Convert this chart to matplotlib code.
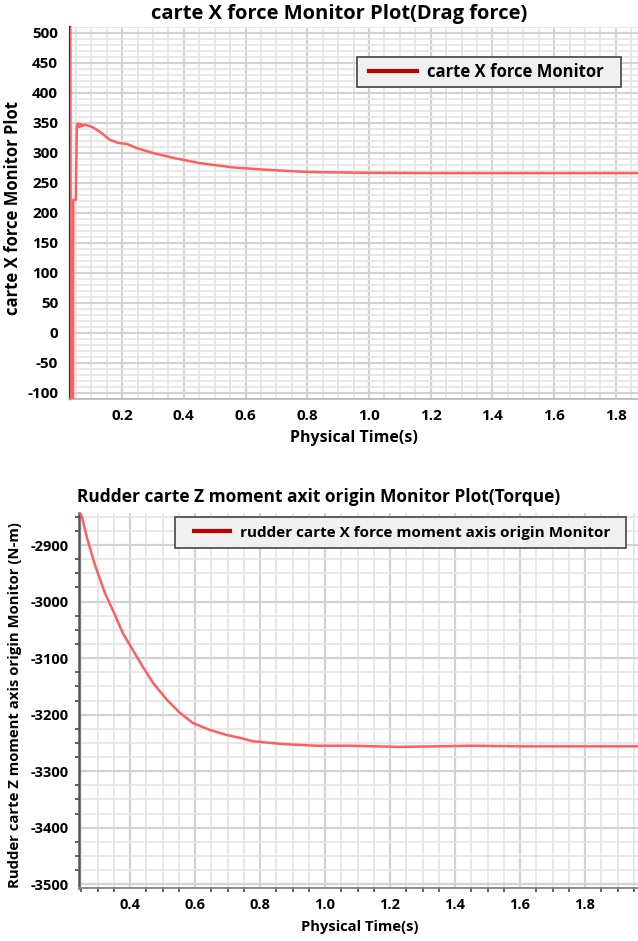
import matplotlib
matplotlib.use("Agg")
import matplotlib.pyplot as plt
from matplotlib.patches import Rectangle
from matplotlib.ticker import MultipleLocator, AutoMinorLocator

plt.rcParams['font.family'] = ['Open Sans', 'DejaVu Sans']
plt.rcParams['font.weight'] = 'bold'
plt.rcParams['axes.unicode_minus'] = False

# ---------------- data ----------------
drag_time = [0.031, 0.035, 0.040, 0.0415, 0.050, 0.053, 0.056, 0.059, 0.062, 0.065,
             0.068, 0.072, 0.078, 0.088, 0.105, 0.134, 0.160, 0.186, 0.216, 0.248,
             0.300, 0.365, 0.452, 0.559, 0.669, 0.776, 0.84, 1.0, 1.2, 1.4, 1.6, 1.8, 1.87]
drag_force = [700, -400, -400, 222, 222, 345, 349, 343, 349, 344,
              348, 345, 347, 346, 343, 333, 322, 317, 315, 308,
              300, 292, 283, 276, 272, 269, 268, 267, 266.5, 266.5, 266.5, 266.5, 266.5]

torque_time = [0.246, 0.252, 0.268, 0.292, 0.323, 0.354, 0.378, 0.409, 0.440, 0.471,
               0.514, 0.554, 0.594, 0.646, 0.698, 0.738, 0.778, 0.871, 0.975, 1.077,
               1.231, 1.35, 1.45, 1.6, 1.75, 1.9, 1.97]
torque_moment = [-2843, -2850, -2888, -2935, -2985, -3024, -3056, -3086, -3116, -3144,
                 -3174, -3197, -3215, -3227, -3236, -3241, -3247, -3252, -3255, -3255,
                 -3257, -3256, -3255, -3256, -3256, -3256, -3256]

top_title = "carte X force Monitor Plot(Drag force)"
top_ylabel = "carte X force Monitor Plot"
top_legend = "carte X force Monitor"
bot_title = "Rudder carte Z moment axit origin Monitor Plot(Torque)"
bot_ylabel = "Rudder carte Z moment axis origin Monitor (N-m)"
bot_legend = "rudder carte X force moment axis origin Monitor"
xlabel = "Physical Time(s)"

W, H = 638, 941
fig = plt.figure(figsize=(W / 100, H / 100), dpi=100)

LINE_C = '#ff5f5f'
LEG_C = '#c00000'


def px_axes(l, t, r, b):
    return fig.add_axes([l / W, 1 - b / H, (r - l) / W, (b - t) / H])


def style(ax, xmaj, ymaj, xminor_n, yminor_n, fs, pad):
    ax.xaxis.set_major_locator(MultipleLocator(xmaj))
    ax.yaxis.set_major_locator(MultipleLocator(ymaj))
    ax.xaxis.set_minor_locator(AutoMinorLocator(xminor_n))
    ax.yaxis.set_minor_locator(AutoMinorLocator(yminor_n))
    ax.grid(which='major', color='#d2d2d2', lw=1.6)
    ax.grid(which='minor', color='#e4e4e4', lw=1.2)
    ax.set_axisbelow(True)
    for s in ('top', 'right'):
        ax.spines[s].set_visible(False)
    ax.tick_params(axis='both', which='major', labelsize=fs, length=0, pad=pad)


def legend_box(ax, label, fs, l, t, r, b, handle_px, gap_px, pad_px):
    """Legend with a frame of the given pixel box."""
    ax.add_patch(Rectangle((l / W, 1 - b / H), (r - l) / W, (b - t) / H,
                           transform=fig.transFigure, facecolor='#f0f0f0',
                           edgecolor='#444444', lw=1.2, clip_on=False, zorder=4.5))
    pt = 72 / 100  # points per pixel
    leg = ax.legend(handles=[plt.Line2D([], [], color=LEG_C, lw=3)], labels=[label],
                    loc='center left',
                    bbox_to_anchor=((l + pad_px) / W, 1 - (t + b) / 2 / H),
                    bbox_transform=fig.transFigure,
                    prop={'size': fs, 'weight': 'bold'}, frameon=False,
                    handlelength=handle_px * pt / fs, handletextpad=gap_px * pt / fs,
                    borderpad=0, borderaxespad=0)
    leg.set_zorder(5)
    return leg


# ---------------- top chart ----------------
ax1 = px_axes(70, 27, 638, 399)
ax1.plot(drag_time, drag_force, color=LINE_C, lw=1.8, zorder=3)
ax1.set_xlim(0.031, 1.872)
ax1.set_ylim(-110, 510)
style(ax1, 0.2, 50, 4, 5, 11, 8.5)
ax1.set_xticks([0.2, 0.4, 0.6, 0.8, 1.0, 1.2, 1.4, 1.6, 1.8])
ax1.set_xticklabels(['0.2', '0.4', '0.6', '0.8', '1.0', '1.2', '1.4', '1.6', '1.8'], fontweight='bold')
ax1.tick_params(axis='x', which='major', pad=7)
ax1.tick_params(axis='both', which='minor', length=0)
ax1.spines['left'].set_color('#333333')
ax1.spines['left'].set_linewidth(1.6)
ax1.spines['bottom'].set_color('#b5b5b5')
ax1.spines['bottom'].set_linewidth(1.2)
for lab in ax1.get_yticklabels():
    lab.set_fontweight('bold')
legend_box(ax1, top_legend, 12, 357, 57, 621, 87, 48, 10, 12)

fig.text(339 / W, 1 - 14 / H, top_title, ha='center', va='center', fontsize=14.5, fontweight='bold')
fig.text(13 / W, 1 - 208 / H, top_ylabel, ha='center', va='center', rotation=90, fontsize=12, fontweight='bold')
fig.text(354 / W, 1 - 438 / H, xlabel, ha='center', va='center', fontsize=11.5, fontweight='bold')

# ---------------- bottom chart ----------------
ax2 = px_axes(79, 513, 638, 888)
ax2.plot(torque_time, torque_moment, color=LINE_C, lw=1.8, zorder=3)
ax2.set_xlim(0.243, 1.963)
ax2.set_ylim(-3506.5, -2843.4)
style(ax2, 0.2, 100, 4, 4, 10.5, 7.5)
ax2.set_xticks([0.4, 0.6, 0.8, 1.0, 1.2, 1.4, 1.6, 1.8])
ax2.set_xticklabels(['0.4', '0.6', '0.8', '1.0', '1.2', '1.4', '1.6', '1.8'], fontweight='bold')
ax2.tick_params(axis='both', which='minor', length=3, width=1.2, color='#444444', direction='out')
ax2.spines['left'].set_color('#555555')
ax2.spines['left'].set_linewidth(1.8)
ax2.spines['bottom'].set_color('#8a8a8a')
ax2.spines['bottom'].set_linewidth(1.4)
for lab in ax2.get_yticklabels():
    lab.set_fontweight('bold')
legend_box(ax2, bot_legend, 11, 175, 517, 626, 548, 36, 10, 19)

fig.text(319 / W, 1 - 497 / H, bot_title, ha='center', va='center', fontsize=12.5, fontweight='bold')
fig.text(15 / W, 1 - 705 / H, bot_ylabel, ha='center', va='center', rotation=90, fontsize=10.7, fontweight='bold')
fig.text(360 / W, 1 - 927 / H, xlabel, ha='center', va='center', fontsize=10.6, fontweight='bold')

fig.savefig('out.png', dpi=100, facecolor='white')
